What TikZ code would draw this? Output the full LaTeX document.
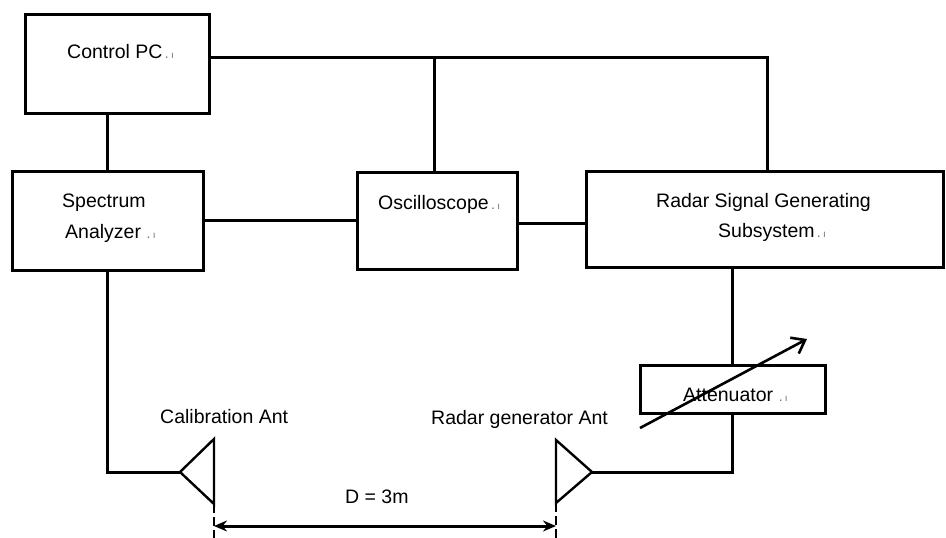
\documentclass[tikz,border=0pt]{standalone}
\usepackage{fontspec}
\setmainfont{Liberation Sans}
\usetikzlibrary{arrows.meta}
\newcommand{\artif}{{\color{black!55}\fontsize{14}{14}\selectfont\,.\,\fontsize{10}{10}\selectfont ı}}
\begin{document}
\begin{tikzpicture}[x=1pt,y=-1pt,
  box/.style={draw,line width=3pt,rectangle,inner sep=0pt},
  lbl/.style={anchor=base west,inner sep=0pt,font=\fontsize{19.5}{22}\selectfont},
  wire/.style={line width=3pt},
  ant/.style={line width=2.4pt,line join=miter},
  dimline/.style={line width=2.6pt,dash pattern=on 9pt off 4pt}]
\useasboundingbox[fill=white] (0,0) rectangle (946,538);
% boxes
\node[box,minimum width=184pt,minimum height=99pt] (pc)  at (117,63.5) {};
\node[box,minimum width=191pt,minimum height=99pt] (sa)  at (107.5,220.5) {};
\node[box,minimum width=160pt,minimum height=97pt] (osc) at (437,220.5) {};
\node[box,minimum width=357pt,minimum height=96pt] (rsg) at (764.5,219) {};
\node[box,minimum width=185pt,minimum height=48pt] (att) at (732.5,389) {};
% texts
\node[lbl] (tpc)  at (67,58)   {Control PC\artif};
\node[lbl] (tsa1) at (62,207)  {Spectrum};
\node[lbl] (tsa2) at (65,238)  {Analyzer\,\artif};
\node[lbl] (tosc) at (378,209) {Oscilloscope\artif};
\node[lbl] (trs1) at (656,207) {Radar Signal Generating};
\node[lbl] (trs2) at (718,237) {Subsystem\artif};
\node[lbl] (tatt) at (683,401) {Attenuator\,\artif};
\node[lbl] (tcal) at (160,423) {Calibration Ant};
\node[lbl] (trga) at (431,424) {Radar generator Ant};
\node[lbl] (tdim) at (345,503) {D = 3m};
% coordinates
\coordinate (c1) at (767,57);
\coordinate (j1) at (434,57);
\coordinate (calTip) at (180,472);
\coordinate (calT) at (214,439);
\coordinate (calB) at (214,504);
\coordinate (rgaTip) at (592,472);
\coordinate (rgaT) at (556,440);
\coordinate (rgaB) at (556,503);
\coordinate (calEnd) at (214,538);
\coordinate (rgaEnd) at (556,538);
\coordinate (dimL) at (214,526);
\coordinate (dimR) at (556,526);
\coordinate (adjS) at (640,428);
\coordinate (adjE) at (807,339);
% connectors
\draw[wire] (pc.east|-c1) -- (c1) -- (c1|-rsg.north);
\draw[wire] (j1) -- (j1|-osc.north);
\draw[wire] (sa.north|-pc.south) -- (sa.north);
\draw[wire] (sa.east) -- (sa.east-|osc.west);
\draw[wire] ([yshift=-2.5pt]osc.east) -- ([yshift=-2.5pt]osc.east-|rsg.west);
\draw[wire] (att.north|-rsg.south) -- (att.north);
\draw[wire,line join=miter] (att.south) -- (att.south|-rgaTip) -- (rgaTip);
\draw[wire,line join=miter] (sa.south) -- (sa.south|-calTip) -- (calTip);
% antennas
\draw[ant] (calT) -- (calB) -- (calTip) -- cycle;
\draw[ant] (rgaT) -- (rgaB) -- (rgaTip) -- cycle;
% distance
\draw[dimline] (calB) -- (calEnd);
\draw[dimline] (rgaB) -- (rgaEnd);
\draw[line width=3pt,{Stealth[length=13pt,width=11pt]}-{Stealth[length=13pt,width=11pt]}] (dimL) -- (dimR);
% variable attenuator arrow
\draw[line width=2.6pt,-{Straight Barb[length=12pt,width=18pt]}] (adjS) -- (adjE);
\end{tikzpicture}
\end{document}
